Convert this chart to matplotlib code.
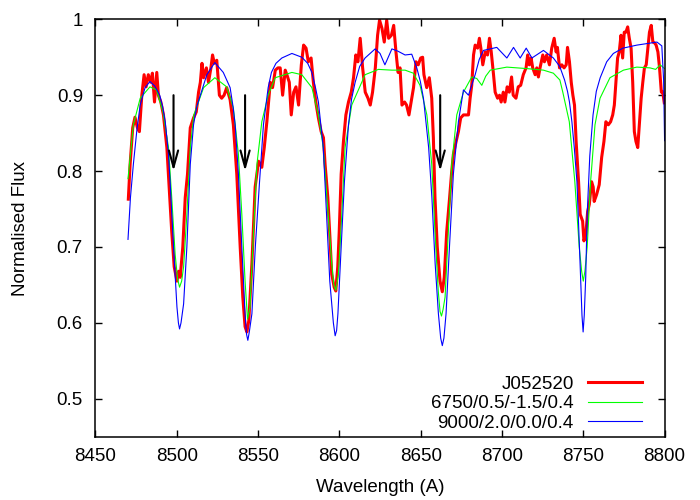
import matplotlib
matplotlib.use("Agg")
import matplotlib.pyplot as plt

plt.rcParams['font.family'] = ['Liberation Sans', 'DejaVu Sans']
plt.rcParams['font.size'] = 13.5

# observed spectrum J052520
red_wave = [8470.2, 8471.3, 8472.9, 8474.3, 8475.8, 8477.0, 8478.5, 8479.9, 8481.1, 8482.5,
            8484.0, 8485.0, 8486.3, 8487.7, 8488.7, 8490.2, 8491.8, 8493.9, 8495.5, 8496.9,
            8498.4, 8500.1, 8501.1, 8502.1, 8503.7, 8505.2, 8506.6, 8508.3, 8510.3, 8512.0,
            8513.4, 8514.5, 8515.5, 8516.5, 8518.2, 8519.5, 8521.0, 8522.0, 8523.1, 8524.6,
            8526.2, 8527.6, 8529.1, 8530.7, 8532.8, 8534.8, 8536.9, 8539.0, 8540.6, 8542.0,
            8543.1, 8544.3, 8546.2, 8548.2, 8550.3, 8552.3, 8553.8, 8555.4, 8557.5, 8558.9,
            8560.6, 8562.2, 8563.6, 8565.1, 8566.7, 8567.7, 8569.2, 8570.4, 8571.9, 8573.3,
            8574.9, 8576.6, 8578.0, 8579.5, 8580.9, 8582.6, 8584.0, 8585.5, 8587.1, 8588.8,
            8590.2, 8591.2, 8592.9, 8594.3, 8595.3, 8596.8, 8597.8, 8599.0, 8599.9, 8601.1,
            8602.5, 8604.0, 8605.6, 8607.3, 8608.7, 8610.1, 8611.4, 8612.8, 8614.3, 8615.9,
            8617.6, 8619.0, 8620.4, 8622.1, 8623.5, 8624.7, 8626.2, 8627.6, 8629.1, 8630.3,
            8632.0, 8633.4, 8634.8, 8636.1, 8637.3, 8638.5, 8640.1, 8641.3, 8642.8, 8644.4,
            8645.6, 8647.1, 8648.5, 8650.0, 8651.2, 8652.0, 8653.7, 8655.3, 8656.8, 8657.8,
            8658.8, 8660.2, 8661.9, 8663.3, 8664.5, 8666.0, 8667.6, 8669.1, 8670.1, 8671.8,
            8673.2, 8674.6, 8676.3, 8678.0, 8679.4, 8680.4, 8681.4, 8682.5, 8683.5, 8685.0,
            8686.1, 8687.0, 8688.2, 8689.7, 8691.1, 8692.3, 8693.4, 8694.8, 8695.8, 8697.3,
            8698.5, 8699.5, 8700.8, 8701.8, 8703.2, 8704.5, 8705.9, 8706.9, 8708.6, 8710.0,
            8711.5, 8713.1, 8714.8, 8715.8, 8716.8, 8717.9, 8718.9, 8720.4, 8721.4, 8722.4,
            8723.4, 8725.1, 8726.1, 8727.5, 8729.2, 8730.6, 8732.1, 8733.3, 8734.1, 8735.4,
            8736.8, 8738.2, 8739.5, 8740.3, 8741.5, 8742.6, 8743.6, 8744.6, 8745.6, 8747.1,
            8748.1, 8749.6, 8750.4, 8751.6, 8752.7, 8753.7, 8755.1, 8756.1, 8756.7, 8758.2,
            8759.8, 8761.3, 8762.7, 8763.9, 8765.4, 8766.8, 8768.1, 8769.1, 8770.1, 8771.1,
            8772.1, 8773.2, 8774.2, 8775.2, 8776.2, 8777.3, 8778.3, 8779.4, 8780.4, 8781.4,
            8782.4, 8783.5, 8784.5, 8785.6, 8786.6, 8787.6, 8788.7, 8789.7, 8790.7, 8791.8,
            8792.8, 8793.8, 8794.8, 8795.9, 8796.9, 8798.0, 8798.8, 8799.8]
red_flux = [0.763, 0.809, 0.857, 0.871, 0.857, 0.852, 0.900, 0.927, 0.911, 0.927,
            0.917, 0.929, 0.891, 0.930, 0.900, 0.891, 0.874, 0.831, 0.773, 0.720,
            0.674, 0.655, 0.668, 0.660, 0.700, 0.765, 0.796, 0.857, 0.870, 0.878,
            0.904, 0.917, 0.942, 0.923, 0.936, 0.917, 0.936, 0.953, 0.942, 0.946,
            0.900, 0.896, 0.900, 0.910, 0.894, 0.861, 0.796, 0.700, 0.634, 0.595,
            0.588, 0.603, 0.678, 0.779, 0.813, 0.805, 0.831, 0.865, 0.917, 0.910,
            0.933, 0.936, 0.936, 0.900, 0.933, 0.927, 0.917, 0.874, 0.904, 0.911,
            0.887, 0.940, 0.966, 0.962, 0.944, 0.949, 0.917, 0.891, 0.870, 0.852,
            0.844, 0.809, 0.765, 0.708, 0.664, 0.647, 0.642, 0.674, 0.720, 0.796,
            0.839, 0.874, 0.891, 0.904, 0.923, 0.953, 0.944, 0.975, 0.936, 0.904,
            0.896, 0.887, 0.904, 0.936, 0.979, 0.999, 0.988, 0.970, 0.999, 0.975,
            0.979, 0.992, 0.957, 0.930, 0.936, 0.887, 0.891, 0.887, 0.874, 0.895,
            0.910, 0.944, 0.940, 0.949, 0.950, 0.927, 0.910, 0.923, 0.896, 0.844,
            0.765, 0.700, 0.655, 0.641, 0.660, 0.720, 0.760, 0.800, 0.822, 0.839,
            0.852, 0.870, 0.874, 0.874, 0.874, 0.896, 0.913, 0.953, 0.966, 0.962,
            0.975, 0.962, 0.940, 0.957, 0.953, 0.975, 0.957, 0.927, 0.904, 0.896,
            0.900, 0.891, 0.904, 0.891, 0.911, 0.904, 0.924, 0.900, 0.896, 0.911,
            0.913, 0.927, 0.936, 0.953, 0.940, 0.949, 0.936, 0.927, 0.936, 0.924,
            0.936, 0.953, 0.944, 0.953, 0.940, 0.962, 0.975, 0.957, 0.963, 0.936,
            0.940, 0.936, 0.940, 0.963, 0.944, 0.917, 0.900, 0.887, 0.839, 0.786,
            0.743, 0.734, 0.708, 0.717, 0.747, 0.756, 0.786, 0.779, 0.760, 0.769,
            0.782, 0.818, 0.839, 0.865, 0.861, 0.865, 0.874, 0.887, 0.917, 0.949,
            0.957, 0.979, 0.949, 0.983, 0.983, 0.990, 0.975, 0.962, 0.917, 0.852,
            0.839, 0.831, 0.861, 0.896, 0.917, 0.936, 0.940, 0.962, 0.983, 0.992,
            0.970, 0.969, 0.966, 0.957, 0.936, 0.904, 0.905, 0.890]

# model 6750/0.5/-1.5/0.4
green_wave = [8470.0, 8473.3, 8477.5, 8483.5, 8487.5, 8491.5, 8494.9, 8496.9, 8499.0, 8500.5,
              8501.7, 8503.0, 8504.2, 8506.2, 8508.3, 8510.5, 8516.5, 8523.4, 8530.7, 8534.8,
              8537.9, 8540.0, 8542.0, 8543.5, 8545.0, 8547.2, 8549.3, 8552.3, 8556.2, 8560.5,
              8570.8, 8576.9, 8583.1, 8587.1, 8590.1, 8593.1, 8595.3, 8596.6, 8597.8, 8599.4,
              8601.5, 8603.5, 8607.6, 8615.8, 8624.0, 8632.3, 8640.4, 8645.5, 8649.6, 8653.8,
              8656.8, 8658.8, 8660.8, 8661.9, 8662.8, 8663.8, 8665.0, 8667.0, 8669.1, 8672.2,
              8676.3, 8681.4, 8684.5, 8687.6, 8690.0, 8692.8, 8703.0, 8715.6, 8725.5, 8731.6,
              8735.6, 8737.4, 8741.4, 8744.8, 8747.5, 8749.0, 8750.0, 8751.0, 8752.4, 8754.5,
              8757.2, 8760.3, 8766.4, 8774.7, 8782.9, 8791.0, 8794.5, 8797.3, 8800.0]
green_flux = [0.790, 0.861, 0.896, 0.911, 0.907, 0.878, 0.831, 0.765, 0.690, 0.658,
              0.647, 0.655, 0.674, 0.743, 0.831, 0.874, 0.910, 0.923, 0.911, 0.883,
              0.822, 0.743, 0.655, 0.605, 0.620, 0.720, 0.809, 0.865, 0.900, 0.923,
              0.930, 0.927, 0.910, 0.874, 0.831, 0.743, 0.678, 0.650, 0.643, 0.664,
              0.743, 0.831, 0.887, 0.927, 0.934, 0.933, 0.933, 0.929, 0.913, 0.874,
              0.809, 0.720, 0.642, 0.615, 0.609, 0.618, 0.634, 0.720, 0.809, 0.874,
              0.904, 0.924, 0.922, 0.913, 0.925, 0.933, 0.937, 0.935, 0.933, 0.929,
              0.920, 0.904, 0.865, 0.786, 0.700, 0.668, 0.655, 0.668, 0.700, 0.786,
              0.861, 0.896, 0.923, 0.933, 0.937, 0.936, 0.934, 0.940, 0.935]

# model 9000/2.0/0.0/0.4
blue_wave = [8470.0, 8471.5, 8473.3, 8475.5, 8477.5, 8480.5, 8483.5, 8486.5, 8489.5, 8491.3,
             8492.9, 8494.9, 8495.9, 8498.0, 8500.1, 8501.0, 8501.7, 8502.6, 8504.2, 8506.2,
             8508.3, 8510.3, 8512.3, 8514.5, 8518.5, 8523.4, 8528.6, 8532.8, 8534.6, 8535.9,
             8537.9, 8540.0, 8542.0, 8542.9, 8543.7, 8544.6, 8546.2, 8548.3, 8550.9, 8553.3,
             8556.2, 8558.2, 8561.0, 8564.6, 8570.8, 8576.9, 8580.5, 8583.1, 8585.5, 8587.1,
             8590.1, 8592.1, 8594.1, 8596.3, 8597.4, 8598.3, 8599.1, 8601.1, 8603.1, 8605.6,
             8607.5, 8609.7, 8612.5, 8615.8, 8622.0, 8625.0, 8628.0, 8632.3, 8636.0, 8640.4,
             8644.5, 8647.6, 8649.8, 8651.7, 8654.9, 8656.9, 8658.9, 8660.9, 8662.3, 8663.3,
             8664.3, 8665.6, 8667.7, 8670.1, 8673.2, 8676.3, 8679.4, 8683.5, 8686.0, 8688.6,
             8692.8, 8696.8, 8703.0, 8707.1, 8711.2, 8714.9, 8718.4, 8725.5, 8731.6, 8735.5,
             8738.5, 8740.3, 8741.5, 8743.0, 8744.5, 8746.1, 8748.0, 8749.2, 8749.9, 8750.6,
             8751.5, 8752.4, 8754.0, 8756.0, 8758.0, 8760.4, 8764.4, 8768.5, 8774.4, 8783.0,
             8795.3, 8798.3, 8799.4, 8800.0]
blue_flux = [0.710, 0.765, 0.809, 0.855, 0.887, 0.910, 0.918, 0.912, 0.900, 0.885,
             0.865, 0.822, 0.786, 0.700, 0.621, 0.600, 0.592, 0.600, 0.625, 0.700,
             0.809, 0.861, 0.885, 0.900, 0.927, 0.943, 0.930, 0.910, 0.885, 0.861,
             0.796, 0.700, 0.612, 0.585, 0.577, 0.588, 0.612, 0.700, 0.786, 0.861,
             0.910, 0.930, 0.942, 0.949, 0.955, 0.950, 0.942, 0.930, 0.908, 0.891,
             0.831, 0.743, 0.655, 0.600, 0.583, 0.590, 0.612, 0.700, 0.786, 0.861,
             0.895, 0.917, 0.938, 0.949, 0.961, 0.955, 0.940, 0.961, 0.958, 0.953,
             0.954, 0.936, 0.918, 0.896, 0.831, 0.765, 0.678, 0.612, 0.580, 0.570,
             0.580, 0.612, 0.700, 0.796, 0.865, 0.907, 0.900, 0.927, 0.947, 0.959,
             0.961, 0.963, 0.949, 0.963, 0.949, 0.962, 0.949, 0.959, 0.949, 0.938,
             0.920, 0.905, 0.891, 0.865, 0.830, 0.786, 0.680, 0.610, 0.588, 0.610,
             0.660, 0.743, 0.820, 0.874, 0.905, 0.923, 0.944, 0.955, 0.962, 0.966,
             0.970, 0.965, 0.920, 0.840]

arrow_x = [8498, 8542, 8662]
arrow_top = 0.9
arrow_tip = 0.8

labels = ['J052520', '6750/0.5/-1.5/0.4', '9000/2.0/0.0/0.4']

fig = plt.figure(figsize=(7, 5), dpi=100)
ax = fig.add_axes([0.1364, 0.1266, 0.8130, 0.8348])

ax.plot(red_wave, red_flux, color='#ff0000', lw=2.2, label=labels[0])
ax.plot(green_wave, green_flux, color='#00ff00', lw=0.8, label=labels[1])
ax.plot(blue_wave, blue_flux, color='#0000ff', lw=0.8, label=labels[2])

for x in arrow_x:
    ax.annotate('', xy=(x, arrow_tip), xytext=(x, arrow_top),
                arrowprops=dict(arrowstyle='->,head_length=1.2,head_width=0.33',
                                mutation_scale=10, lw=1.5, color='black',
                                shrinkA=0, shrinkB=0))

ax.set_xlim(8450, 8800)
ax.set_ylim(0.45, 1.0)
ax.set_xticks([8450, 8500, 8550, 8600, 8650, 8700, 8750, 8800])
ax.set_yticks([0.5, 0.6, 0.7, 0.8, 0.9, 1.0])
ax.set_yticklabels(['0.5', '0.6', '0.7', '0.8', '0.9', '1'])
ax.tick_params(direction='in', length=5, width=1, top=True, right=True)
ax.tick_params(axis='x', pad=8)
ax.tick_params(axis='y', pad=9)
for s in ax.spines.values():
    s.set_linewidth(1.1)

ax.set_xlabel('Wavelength (A)', labelpad=10)
ax.set_ylabel('Normalised Flux', labelpad=20)

ax.legend(loc='lower right', bbox_to_anchor=(0.9605, 0.012), frameon=False,
          markerfirst=False, handlelength=2.9, handletextpad=0.75,
          labelspacing=0.12, borderpad=0, borderaxespad=0)

fig.savefig('out.png', dpi=100)
